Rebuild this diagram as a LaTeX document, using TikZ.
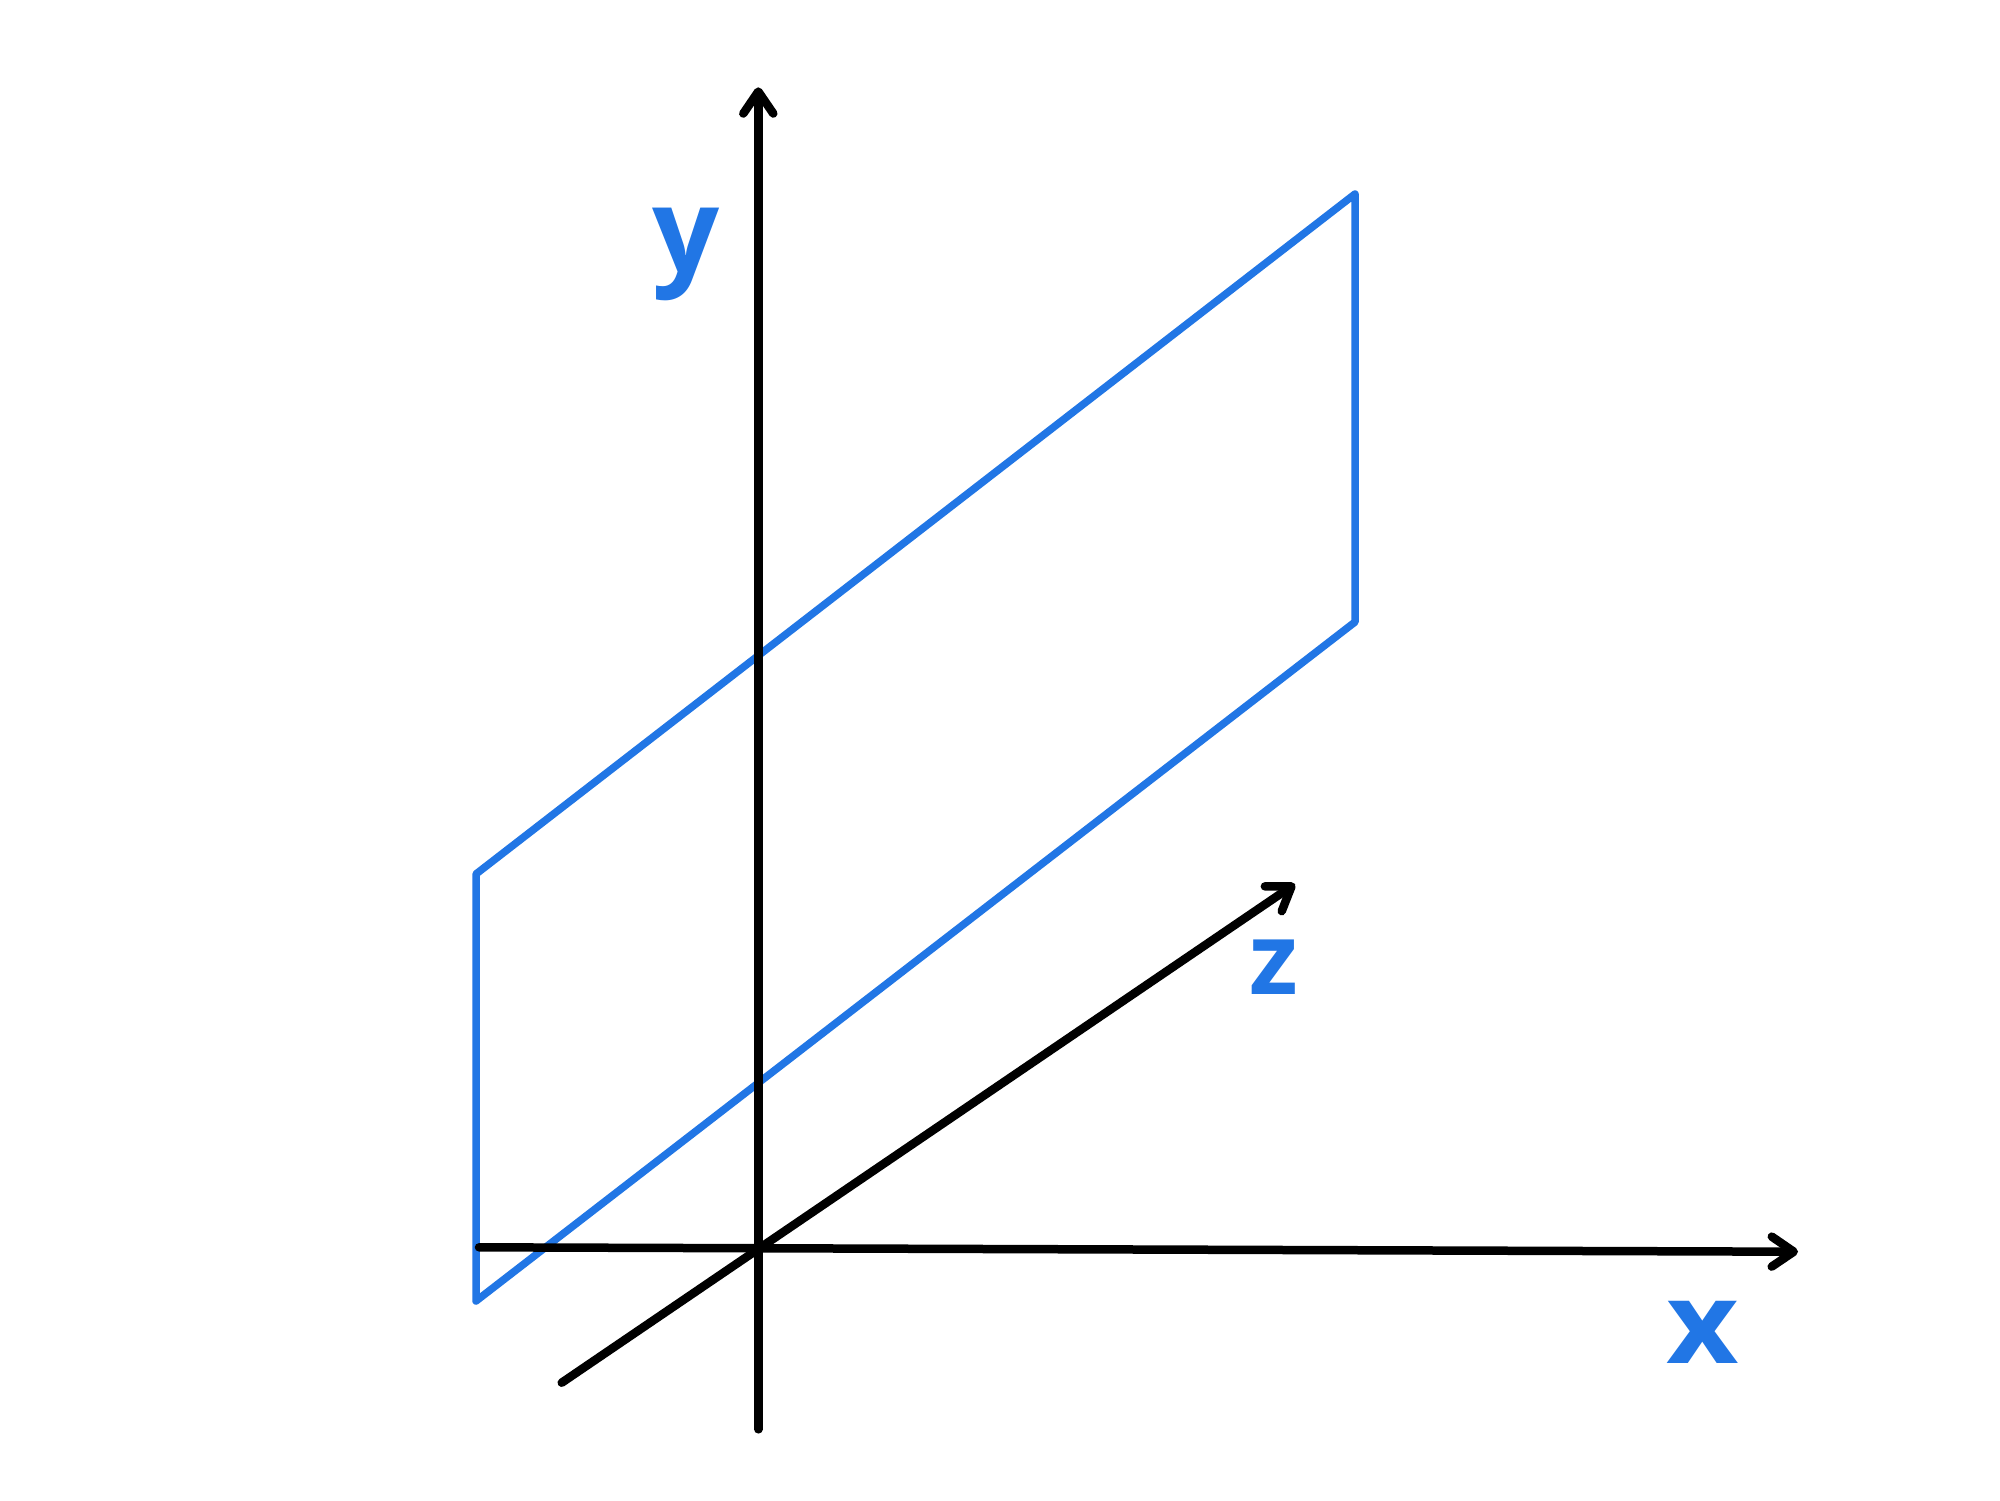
\documentclass[tikz,border=0pt]{standalone}
\usepackage{fontspec}
\setmainfont{Open Sans}
\usetikzlibrary{arrows.meta}
\definecolor{planeblue}{HTML}{2176E5}
\begin{document}
\begin{tikzpicture}[x=1pt,y=-1pt,
  axis/.style={line width=8.5pt,line cap=round,draw=black,
    -{Straight Barb[length=22pt,width=30pt,line cap=round,line join=round]}},
  plane/.style={line width=7.5pt,draw=planeblue,line join=round,line cap=round},
  lbl/.style={text=planeblue,font=\bfseries,inner sep=0pt,anchor=base}]
\useasboundingbox (0,0) rectangle (2000,1500);
\fill[white] (0,0) rectangle (2000,1500);
% plane corners
\coordinate (p1) at (476,874);
\coordinate (p2) at (1355,194);
\coordinate (p3) at (1355,622);
\coordinate (p4) at (476,1301);
\draw[plane] (p1) -- (p2) -- (p3) -- (p4) -- cycle;
% axes
\coordinate (ys) at (758.3,1429.3);
\coordinate (ye) at (758.3,87.3);
\coordinate (xs) at (479,1247.3);
\coordinate (xe) at (1798,1251.7);
\coordinate (zs) at (561.7,1382.7);
\coordinate (ze) at (1295,884);
\draw[axis] (ys) -- (ye);
\draw[axis] (xs) -- (xe);
\draw[axis] (zs) -- (ze);
% labels
\node[lbl,font=\bfseries\fontsize{118}{118}\selectfont] (ly) at (686,272) {y};
\node[lbl,xscale=1.1,font=\bfseries\fontsize{114}{114}\selectfont] (lx) at (1703,1363) {x};
\node[lbl,font=\bfseries\fontsize{100}{100}\selectfont] (lz) at (1274,994) {z};
\end{tikzpicture}
\end{document}
